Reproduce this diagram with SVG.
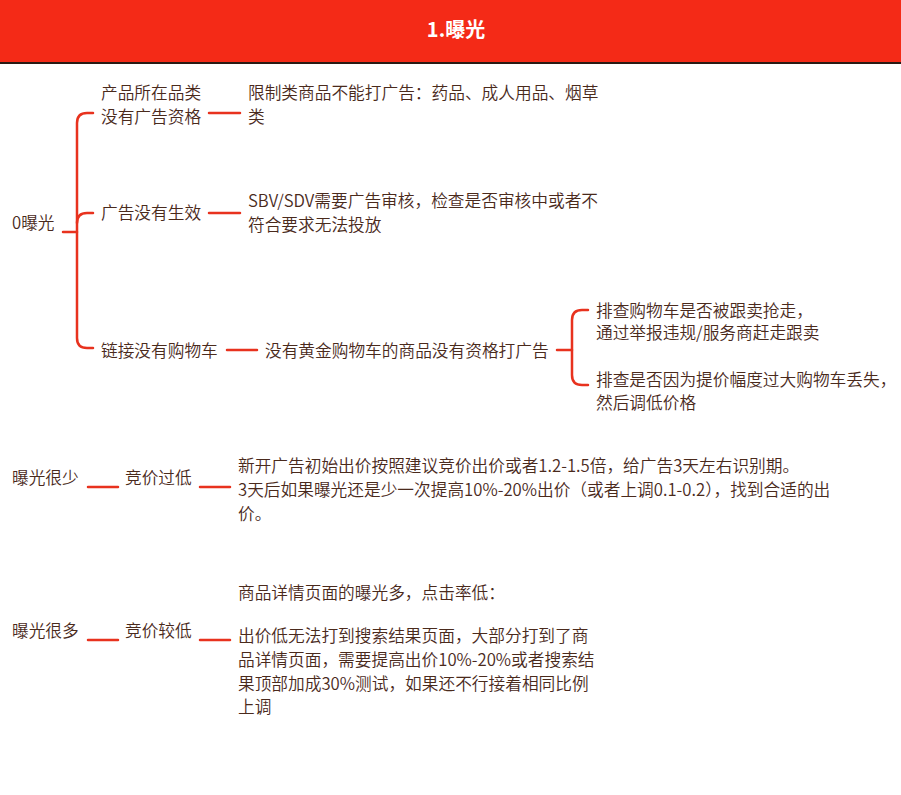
<svg xmlns="http://www.w3.org/2000/svg" width="901" height="795" viewBox="0 0 901 795">
<style>
text{font-family:"Noto Sans CJK SC","Noto Sans",sans-serif;font-size:16.7px;fill:#4a2a1c;font-weight:350}
.title{font-size:20px;fill:#ffffff;font-weight:bold}
.ln{fill:none;stroke:#e8321e;stroke-width:2.5;stroke-linecap:round}
</style>
<rect x="0" y="0" width="901" height="795" fill="#ffffff"/>
<g id="header">
<rect x="0" y="0" width="901" height="62" fill="#f42a17"/>
<rect x="0" y="62" width="901" height="2" fill="#2a1a14"/>
<text class="title" x="456" y="37" text-anchor="middle">1.曝光</text>
</g>
<g id="connectors">
<path class="ln" d="M63,232 H77"/>
<path class="ln" d="M93,113 H87 Q77,113 77,123 V338 Q77,348 87,348 H93"/>
<path class="ln" d="M77,223 Q77,213 87,213 H93"/>
<path class="ln" d="M209,113 H240"/>
<path class="ln" d="M209,213 H240"/>
<path class="ln" d="M227,350 H257"/>
<path class="ln" d="M557,350 H572"/>
<path class="ln" d="M588,310 H582 Q572,310 572,320 V375 Q572,385 582,385 H588"/>
<path class="ln" d="M88,487 H118"/>
<path class="ln" d="M200,487 H230"/>
<path class="ln" d="M88,640 H118"/>
<path class="ln" d="M200,640 H230"/>
</g>
<g id="n-root1"><text x="12" y="229">0曝光</text></g>
<g id="n-category"><text x="101" y="99">产品所在品类</text><text x="101" y="123">没有广告资格</text></g>
<g id="n-restricted"><text x="248" y="99">限制类商品不能打广告：药品、成人用品、烟草</text><text x="248" y="123">类</text></g>
<g id="n-noeffect"><text x="101" y="219">广告没有生效</text></g>
<g id="n-review"><text x="248" y="207">SBV/SDV需要广告审核，检查是否审核中或者不</text><text x="248" y="231">符合要求无法投放</text></g>
<g id="n-nocart"><text x="101" y="357">链接没有购物车</text></g>
<g id="n-nobuybox"><text x="265" y="357">没有黄金购物车的商品没有资格打广告</text></g>
<g id="n-hijack"><text x="596" y="317">排查购物车是否被跟卖抢走，</text><text x="596" y="339">通过举报违规/服务商赶走跟卖</text></g>
<g id="n-price"><text x="596" y="386">排查是否因为提价幅度过大购物车丢失，</text><text x="596" y="409">然后调低价格</text></g>
<g id="n-root2"><text x="12" y="484">曝光很少</text></g>
<g id="n-bidlow"><text x="125" y="484">竞价过低</text></g>
<g id="n-bidadvice"><text x="238" y="472">新开广告初始出价按照建议竞价出价或者1.2-1.5倍，给广告3天左右识别期。</text><text x="238" y="496">3天后如果曝光还是少一次提高10%-20%出价（或者上调0.1-0.2），找到合适的出</text><text x="238" y="520">价。</text></g>
<g id="n-root3"><text x="12" y="637">曝光很多</text></g>
<g id="n-bidlower"><text x="125" y="637">竞价较低</text></g>
<g id="n-detail"><text x="238" y="599">商品详情页面的曝光多，点击率低：</text><text x="238" y="642">出价低无法打到搜索结果页面，大部分打到了商</text><text x="238" y="666">品详情页面，需要提高出价10%-20%或者搜索结</text><text x="238" y="690">果顶部加成30%测试，如果还不行接着相同比例</text><text x="238" y="713">上调</text></g>
</svg>
